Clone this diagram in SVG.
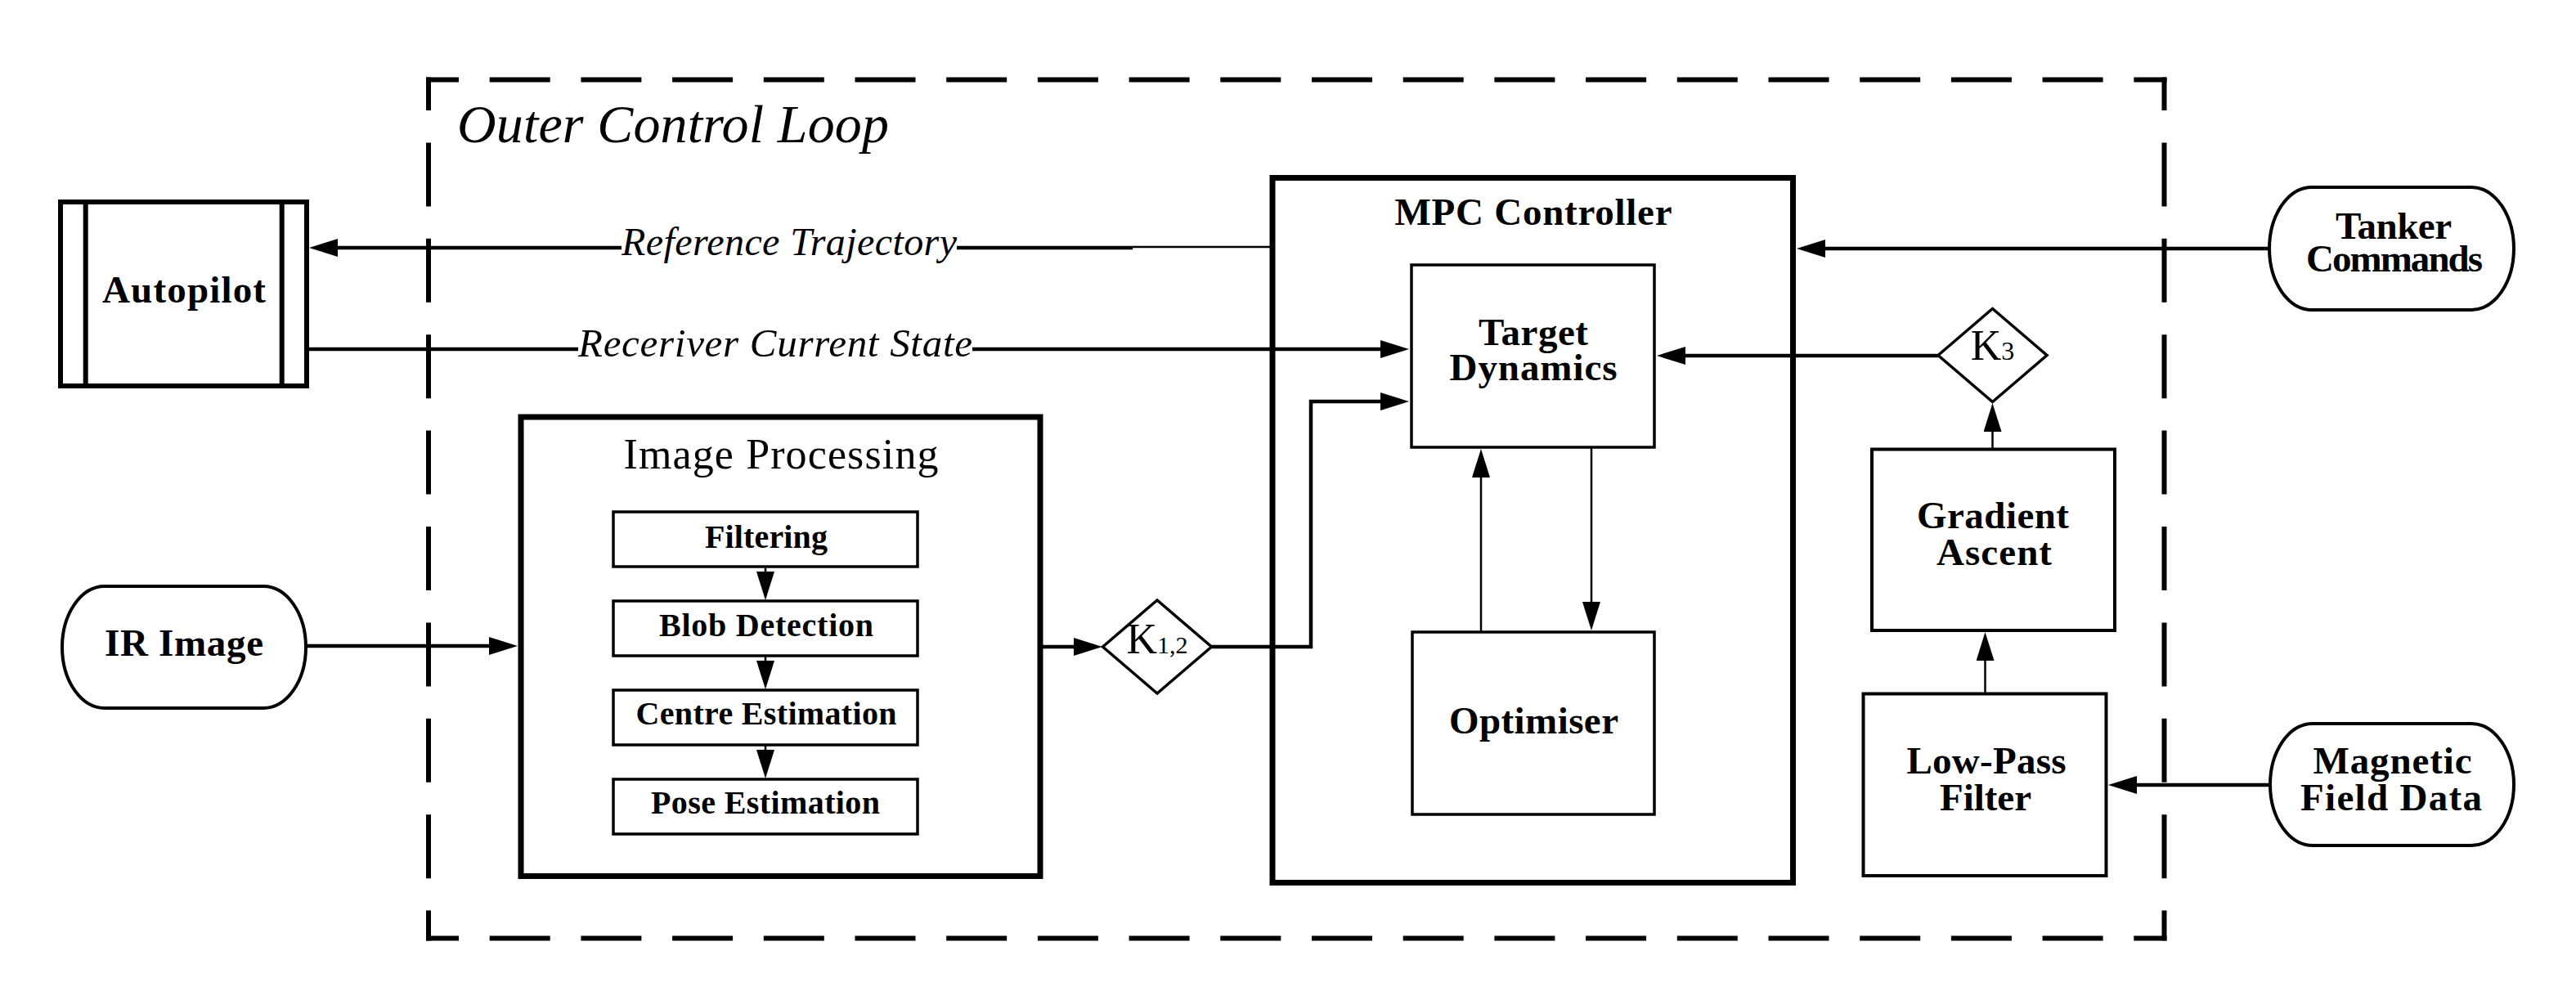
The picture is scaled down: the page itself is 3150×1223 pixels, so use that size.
<svg xmlns="http://www.w3.org/2000/svg" width="3150" height="1223" viewBox="0 0 3150 1223">
<style>
.bg{fill:#fff}
.box{fill:#fff;stroke:#000}
.t{font-family:"Liberation Serif","DejaVu Serif",serif;font-weight:bold;font-size:47px;text-anchor:middle;fill:#000}
.sub{font-size:40px}
.reg{font-weight:normal}
.it{font-style:italic;font-weight:normal}
.conn{fill:none;stroke:#000;stroke-width:4.5}
.thin{stroke-width:2.5}
.dashh{fill:none;stroke:#000;stroke-width:6;stroke-dasharray:74 37.7;stroke-dashoffset:34}
.dashv{fill:none;stroke:#000;stroke-width:6;stroke-dasharray:78 39.4;stroke-dashoffset:37.5}
</style>
<defs>
<marker id="ah" markerUnits="userSpaceOnUse" markerWidth="35" markerHeight="22" viewBox="0 0 35 22" refX="15" refY="11" orient="auto"><path d="M0,0 L35,11 L0,22 z" fill="#000"/></marker>
</defs>
<rect class="bg" x="0" y="0" width="3150" height="1223"/>

<g id="outer-loop">
<path class="dashh" d="M521,97.5 H2649.5"/>
<path class="dashh" d="M521,1147.5 H2649.5"/>
<path class="dashv" d="M524,94.5 V1150.5"/>
<path class="dashv" d="M2646.5,94.5 V1150.5"/>
<text class="t it" x="559" y="174" style="text-anchor:start;font-size:66px" textLength="528">Outer Control Loop</text>
</g>

<g id="autopilot">
<rect class="box" x="74" y="247" width="301" height="225" stroke-width="6"/>
<line x1="104.7" y1="247" x2="104.7" y2="472" stroke="#000" stroke-width="6"/>
<line x1="344.7" y1="247" x2="344.7" y2="472" stroke="#000" stroke-width="6"/>
<text class="t" x="225" y="370" textLength="200">Autopilot</text>
</g>

<g id="ir-image">
<path class="box" stroke-width="4" d="M128,717 H322 A52,74.5 0 0 1 322,866 H128 A52,74.5 0 0 1 128,717 Z"/>
<text class="t" x="225" y="802" textLength="194">IR Image</text>
</g>

<g id="image-processing">
<rect class="box" x="637" y="510" width="635" height="561.5" stroke-width="7"/>
<text class="t reg" x="955" y="573" style="font-size:52px" textLength="385">Image Processing</text>
</g>

<g id="filtering">
<rect class="box" x="750" y="626" width="372" height="67" stroke-width="3.5"/>
<text class="t sub" x="937" y="669.5" textLength="150">Filtering</text>
</g>
<g id="blob-detection">
<rect class="box" x="750" y="735" width="372" height="67" stroke-width="3.5"/>
<text class="t sub" x="937" y="777.5" textLength="262">Blob Detection</text>
</g>
<g id="centre-estimation">
<rect class="box" x="750" y="844" width="372" height="67" stroke-width="3.5"/>
<text class="t sub" x="937" y="885.5" textLength="319">Centre Estimation</text>
</g>
<g id="pose-estimation">
<rect class="box" x="750" y="953" width="372" height="67" stroke-width="3.5"/>
<text class="t sub" x="936" y="994.5" textLength="280">Pose Estimation</text>
</g>

<g id="k12">
<path class="box" stroke-width="3.5" d="M1348.5,791 L1415,734 L1481.5,791 L1415,848 Z"/>
<text class="t reg" x="1415" y="799" style="font-size:52px">K<tspan style="font-size:30px" dy="0">1,2</tspan></text>
</g>

<g id="mpc-controller">
<rect class="box" x="1556" y="217.5" width="636.5" height="862" stroke-width="7"/>
<text class="t" x="1875" y="275" textLength="339">MPC Controller</text>
</g>

<g id="target-dynamics">
<rect class="box" x="1726" y="324" width="297" height="223" stroke-width="3.5"/>
<text class="t" x="1875" y="421.7" textLength="134">Target</text>
<text class="t" x="1875" y="465" textLength="205">Dynamics</text>
</g>

<g id="optimiser">
<rect class="box" x="1727" y="773" width="296" height="223" stroke-width="3.5"/>
<text class="t" x="1875.5" y="897" textLength="207">Optimiser</text>
</g>

<g id="k3">
<path class="box" stroke-width="3.5" d="M2370,434.5 L2436.5,377.5 L2503,434.5 L2436.5,491.5 Z"/>
<text class="t reg" x="2436.5" y="440" style="font-size:52px">K<tspan style="font-size:32px">3</tspan></text>
</g>

<g id="gradient-ascent">
<rect class="box" x="2289" y="549.5" width="297" height="221.5" stroke-width="4"/>
<text class="t" x="2437" y="645.7" textLength="186">Gradient</text>
<text class="t" x="2438.5" y="690.6" textLength="141">Ascent</text>
</g>

<g id="low-pass-filter">
<rect class="box" x="2278.5" y="848.5" width="297" height="222.5" stroke-width="4"/>
<text class="t" x="2429" y="945.6" textLength="195">Low-Pass</text>
<text class="t" x="2428" y="990.5" textLength="112">Filter</text>
</g>

<g id="tanker-commands">
<path class="box" stroke-width="4" d="M2827,229 H3022 A52,75 0 0 1 3022,379 H2827 A52,75 0 0 1 2827,229 Z"/>
<text class="t" x="2927" y="291.7" textLength="142">Tanker</text>
<text class="t" x="2928" y="331.7" textLength="216">Commands</text>
</g>

<g id="magnetic-field-data">
<path class="box" stroke-width="4" d="M2828,885 H3022 A52,74.5 0 0 1 3022,1034 H2828 A52,74.5 0 0 1 2828,885 Z"/>
<text class="t" x="2925.5" y="945.6" textLength="194">Magnetic</text>
<text class="t" x="2924" y="990.5" textLength="222">Field Data</text>
</g>

<g id="connectors">
<path class="conn thin" d="M1556,302 H1385"/>
<path class="conn" d="M1385,303 H1170 M760,303 H398" marker-end="url(#ah)"/>
<text class="t it" x="965" y="312" style="font-size:48px" textLength="410">Reference Trajectory</text>
<path class="conn" d="M375,427 H707 M1189,427 H1703" marker-end="url(#ah)"/>
<text class="t it" x="948" y="436" style="font-size:49px" textLength="482">Receriver Current State</text>
<path class="conn" d="M375,790 H613" marker-end="url(#ah)"/>
<path class="conn" d="M1275,791 H1328" marker-end="url(#ah)"/>
<path class="conn" d="M1481.5,791 H1603 V491 H1703" marker-end="url(#ah)"/>
<path class="conn" d="M2775,304 H2217" marker-end="url(#ah)"/>
<path class="conn" d="M2370,435 H2046" marker-end="url(#ah)"/>
<path class="conn thin" d="M2436.5,548 V513" marker-end="url(#ah)"/>
<path class="conn thin" d="M2427.5,847 V793" marker-end="url(#ah)"/>
<path class="conn" d="M2776,960 H2598" marker-end="url(#ah)"/>
<path class="conn thin" d="M1811,772 V569" marker-end="url(#ah)"/>
<path class="conn thin" d="M1946,548 V751" marker-end="url(#ah)"/>
<path class="conn thin" d="M936,695 V714" marker-end="url(#ah)"/>
<path class="conn thin" d="M936,803 V823" marker-end="url(#ah)"/>
<path class="conn thin" d="M936,912 V932" marker-end="url(#ah)"/>
</g>
</svg>
